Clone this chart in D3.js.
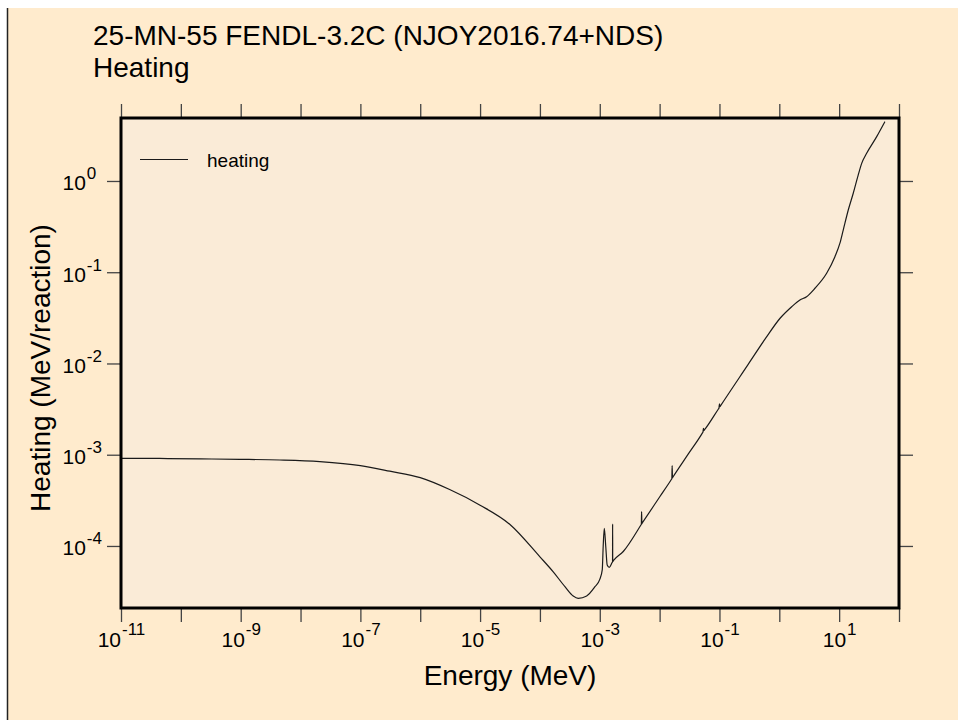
<!DOCTYPE html>
<html><head><meta charset="utf-8">
<script src="https://cdn.jsdelivr.net/npm/d3@7"></script>
<style>
body{margin:0;background:#fff}
svg{display:block}
text{font-family:Arial,"Liberation Sans",sans-serif;fill:#000}
</style></head><body>
<svg id="chart" width="958" height="720"></svg>
<script>
// Incident energy (MeV) and heating (MeV/reaction) for Mn-55
const energy = [
  1e-11, 4.4e-11, 2.1e-10, 9.7e-10, 4.5e-9, 2.1e-8, 1e-7, 3.1e-7, 1e-6, 3.1e-6,
  1e-5, 3.16e-5, 1e-4, 1.67e-4, 2.62e-4, 3.6e-4, 4.37e-4, 6.04e-4, 8.32e-4, 1.0e-3,
  1.1e-3, 1.14e-3, 1.19e-3, 1.26e-3, 1.33e-3, 1.44e-3, 1.6e-3, 1.635e-3, 1.64e-3, 1.645e-3,
  1.7e-3, 2.47e-3, 4.9e-3, 4.95e-3, 5.0e-3, 5.05e-3, 5.1e-3, 1.0e-2, 1.58e-2, 1.6e-2,
  1.62e-2, 1.64e-2, 1.66e-2, 3.0e-2, 5.2e-2, 5.3e-2, 5.4e-2, 5.5e-2, 5.6e-2, 9.6e-2,
  9.8e-2, 0.1, 0.102, 0.104, 0.3, 0.6, 1.03, 1.61, 2.21, 2.86,
  3.94, 6.18, 8.5, 10.3, 11.7, 14.2, 17.2, 20.8, 23.8, 28.8,
  42.4, 58.2
];
const heating = [
  9.14e-4, 9.1e-4, 9.0e-4, 8.9e-4, 8.75e-4, 8.4e-4, 7.6e-4, 6.6e-4, 5.6e-4, 4.15e-4,
  2.8e-4, 1.72e-4, 7.6e-5, 5.2e-5, 3.58e-5, 2.83e-5, 2.67e-5, 2.83e-5, 3.58e-5, 4.3e-5,
  5.46e-5, 9.8e-5, 1.56e-4, 9.8e-5, 6.2e-5, 5.84e-5, 6.55e-5, 6.7e-5, 1.74e-4, 6.75e-5,
  6.95e-5, 8.7e-5, 1.707e-4, 1.725e-4, 2.38e-4, 1.759e-4, 1.776e-4, 3.44e-4, 5.39e-4, 5.46e-4,
  7.6e-4, 5.59e-4, 5.66e-4, 1.013e-3, 1.736e-3, 1.773e-3, 1.95e-3, 1.84e-3, 1.867e-3, 3.17e-3,
  3.235e-3, 3.6e-3, 3.364e-3, 3.43e-3, 9.71e-3, 1.916e-2, 3.13e-2, 4.19e-2, 4.97e-2, 5.4e-2,
  6.67e-2, 9.74e-2, 0.148, 0.208, 0.29, 0.481, 0.733, 1.16, 1.56, 2.01,
  3.06, 4.47
];
const xTickExponents = d3.range(-11, 3);
const xLabelExponents = [-11, -9, -7, -5, -3, -1, 1];
const yTickExponents = [0, -1, -2, -3, -4];
const titleLines = ["25-MN-55 FENDL-3.2C (NJOY2016.74+NDS)", "Heating"];
const xTitle = "Energy (MeV)";
const yTitle = "Heating (MeV/reaction)";
const seriesName = "heating";

const svg = d3.select("#chart");
const W = 958, H = 720;
const plot = {left: 121, right: 899, top: 118, bottom: 608};

const x = d3.scaleLog().domain([1e-11, 1e2]).range([plot.left, plot.right]);
const y = d3.scaleLog().domain([2.09e-5, 4.9]).range([plot.bottom, plot.top]);

// page background with left rule
svg.append("rect").attr("x", 7).attr("y", 8).attr("width", W - 7).attr("height", H - 8)
  .attr("fill", "#FFEBCD");
svg.append("line").attr("x1", 7.5).attr("x2", 7.5).attr("y1", 8).attr("y2", H)
  .attr("stroke", "#222").attr("stroke-width", 1.5);

// plot area fill
svg.append("rect").attr("x", plot.left).attr("y", plot.top)
  .attr("width", plot.right - plot.left).attr("height", plot.bottom - plot.top)
  .attr("fill", "#FAEBD7");

// titles
svg.append("text").attr("x", 93).attr("y", 45).attr("font-size", 28).text(titleLines[0]);
svg.append("text").attr("x", 93).attr("y", 77).attr("font-size", 28).text(titleLines[1]);

const tickColor = "#444";
function styleTicks(g) {
  g.select(".domain").remove();
  g.selectAll(".tick line").attr("stroke", tickColor).attr("stroke-width", 1.3);
}
function powerLabel(textSel, e, supDy) {
  textSel.text(null);
  textSel.append("tspan").text("10");
  textSel.append("tspan").attr("dx", 1).attr("dy", supDy).attr("font-size", 17).text(String(e));
}

const xTicks = xTickExponents.map(e => Math.pow(10, e));
const yTicks = yTickExponents.map(e => Math.pow(10, e));

// bottom axis with labels
const gB = svg.append("g").attr("transform", `translate(0,${plot.bottom})`)
  .call(d3.axisBottom(x).tickValues(xTicks).tickSize(14).tickFormat(d => d));
styleTicks(gB);
gB.selectAll(".tick text").each(function(d) {
  const e = Math.round(Math.log10(d));
  const t = d3.select(this);
  if (!xLabelExponents.includes(e)) { t.remove(); return; }
  t.attr("y", 39).attr("dy", null).attr("font-size", 21).attr("text-anchor", "middle");
  powerLabel(t, e, -12);
});

// top axis, ticks only
const gT = svg.append("g").attr("transform", `translate(0,${plot.top})`)
  .call(d3.axisTop(x).tickValues(xTicks).tickSize(14).tickFormat(""));
styleTicks(gT);

// left axis with labels: the "10" is right-aligned, exponent follows it
const gL = svg.append("g").attr("transform", `translate(${plot.left},0)`)
  .call(d3.axisLeft(y).tickValues(yTicks).tickSize(14).tickFormat(d => d));
styleTicks(gL);
gL.selectAll(".tick text").each(function(d) {
  const e = Math.round(Math.log10(d));
  const t = d3.select(this);
  t.attr("x", -58.5).attr("y", 9).attr("dy", null).attr("font-size", 21).attr("text-anchor", "start");
  powerLabel(t, e, -11);
});

// right axis, ticks only
const gR = svg.append("g").attr("transform", `translate(${plot.right},0)`)
  .call(d3.axisRight(y).tickValues(yTicks).tickSize(14).tickFormat(""));
styleTicks(gR);

// axis titles
svg.append("text").attr("x", (plot.left + plot.right) / 2).attr("y", 685)
  .attr("text-anchor", "middle").attr("font-size", 28).text(xTitle);
svg.append("text").attr("transform", "translate(50,368) rotate(-90)")
  .attr("text-anchor", "middle").attr("font-size", 28).text(yTitle);

// curve
svg.append("clipPath").attr("id", "plotClip").append("rect")
  .attr("x", plot.left).attr("y", plot.top)
  .attr("width", plot.right - plot.left).attr("height", plot.bottom - plot.top);

const pts = energy.map((e, i) => [e, heating[i]]);
const line = d3.line().x(d => x(d[0])).y(d => y(d[1])).curve(d3.curveMonotoneX);
svg.append("path").datum(pts).attr("clip-path", "url(#plotClip)")
  .attr("d", line).attr("fill", "none").attr("stroke", "#1a1a1a").attr("stroke-width", 1.2);

// legend
svg.append("line").attr("x1", 140).attr("x2", 188).attr("y1", 159.5).attr("y2", 159.5)
  .attr("stroke", "#1a1a1a").attr("stroke-width", 1.2);
svg.append("text").attr("x", 207).attr("y", 167).attr("font-size", 19).text(seriesName);

// plot frame
svg.append("rect").attr("x", plot.left).attr("y", plot.top)
  .attr("width", plot.right - plot.left).attr("height", plot.bottom - plot.top)
  .attr("fill", "none").attr("stroke", "#000").attr("stroke-width", 3);
</script>
</body></html>
